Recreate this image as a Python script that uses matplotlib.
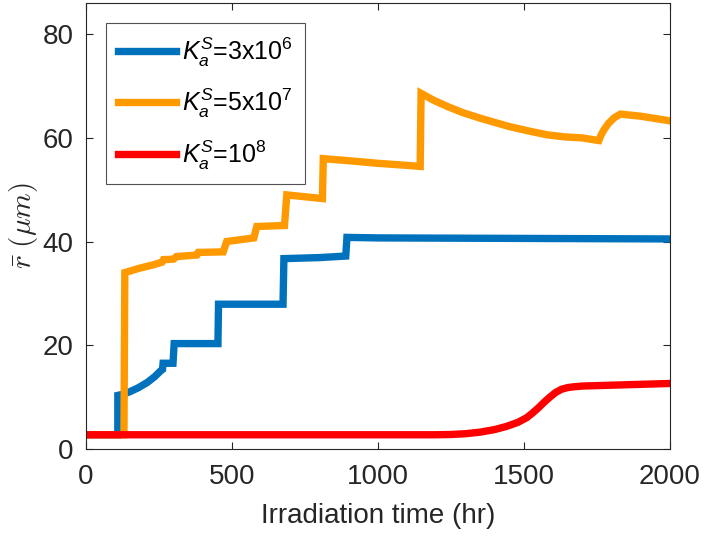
import matplotlib
matplotlib.use("Agg")
import matplotlib.pyplot as plt

plt.rcParams['font.family'] = ['Liberation Sans', 'DejaVu Sans']
plt.rcParams['mathtext.fontset'] = 'custom'
plt.rcParams['mathtext.rm'] = 'Liberation Sans'
plt.rcParams['mathtext.it'] = 'Liberation Sans:italic'

# Data
blue_x = [0, 109, 109, 125, 150, 180, 210, 235, 255, 262, 264, 298, 302, 452, 454, 675, 678, 800, 890, 894, 1000, 1500, 2000]
blue_y = [2.7, 2.7, 10.3, 10.5, 11.0, 11.8, 12.8, 13.9, 15.0, 15.3, 16.5, 16.5, 20.3, 20.3, 27.9, 27.9, 36.7, 36.9, 37.2, 40.8, 40.7, 40.6, 40.5]

orange_x = [0, 130, 133, 180, 230, 260, 265, 300, 310, 380, 385, 470, 482, 575, 585, 680, 688, 810, 813, 900,
            1000, 1100, 1145, 1148, 1190, 1237, 1290, 1351, 1400, 1450, 1520, 1580, 1640, 1700, 1757,
            1765, 1775, 1790, 1810, 1831, 1900, 2000]
orange_y = [2.7, 2.7, 34.0, 34.8, 35.5, 36.0, 36.5, 36.6, 37.1, 37.4, 37.9, 38.0, 40.0, 40.7, 42.9, 43.1, 49.0, 48.3, 56.0, 55.6,
            55.1, 54.7, 54.5, 68.6, 67.3, 66.1, 64.9, 63.8, 63.0, 62.2, 61.3, 60.6, 60.2, 60.0, 59.5,
            60.6, 61.6, 62.8, 63.9, 64.6, 64.2, 63.3]

red_x = [0, 1200, 1250, 1300, 1350, 1400, 1440, 1480, 1510, 1530, 1550, 1570, 1590, 1610, 1630, 1650, 1670, 1700, 1850, 2000]
red_y = [2.7, 2.7, 2.75, 2.9, 3.2, 3.7, 4.3, 5.1, 6.0, 6.9, 7.9, 9.0, 10.0, 10.9, 11.5, 11.8, 11.95, 12.1, 12.35, 12.6]

labels = [r'$K_a^S$=3x10$^6$', r'$K_a^S$=5x10$^7$', r'$K_a^S$=10$^8$']
colors = ['#0072BD', '#FF9900', '#FF0000']
xticks = [0, 500, 1000, 1500, 2000]
yticks = [0, 20, 40, 60, 80]

fig = plt.figure(figsize=(7.05, 5.40), dpi=100)
ax = fig.add_axes([0.122, 0.169, 0.828, 0.825])

ax.plot(blue_x, blue_y, color=colors[0], lw=5.3, label=labels[0], solid_joinstyle='miter')
ax.plot(orange_x, orange_y, color=colors[1], lw=5.3, label=labels[1], solid_joinstyle='miter')
ax.plot(red_x, red_y, color=colors[2], lw=5.3, label=labels[2], solid_joinstyle='miter')

ax.set_xlim(0, 2000)
ax.set_ylim(0, 86)
ax.set_xticks(xticks)
ax.set_yticks(yticks)
ax.tick_params(direction='in', top=True, right=True, labelsize=20, colors='#262626', length=5, width=0.8)
ax.tick_params(axis='x', pad=11)
ax.tick_params(axis='y', pad=9)
for s in ax.spines.values():
    s.set_color('#262626')
    s.set_linewidth(0.8)

ax.set_xlabel('Irradiation time (hr)', fontsize=20, color='#262626', labelpad=9)
ax.set_ylabel(r'$\bar{r}\ (\mu m)$', fontsize=21, color='#262626', math_fontfamily='cm', labelpad=2)

leg = ax.legend(loc='upper left', bbox_to_anchor=(0.034, 0.956), borderaxespad=0, fontsize=18,
                handlelength=2.3, labelspacing=0.72, handletextpad=0.25, borderpad=0.5, fancybox=False)
leg.get_frame().set_edgecolor('#262626')
leg.get_frame().set_linewidth(0.8)

fig.savefig('out.png', dpi=100)
